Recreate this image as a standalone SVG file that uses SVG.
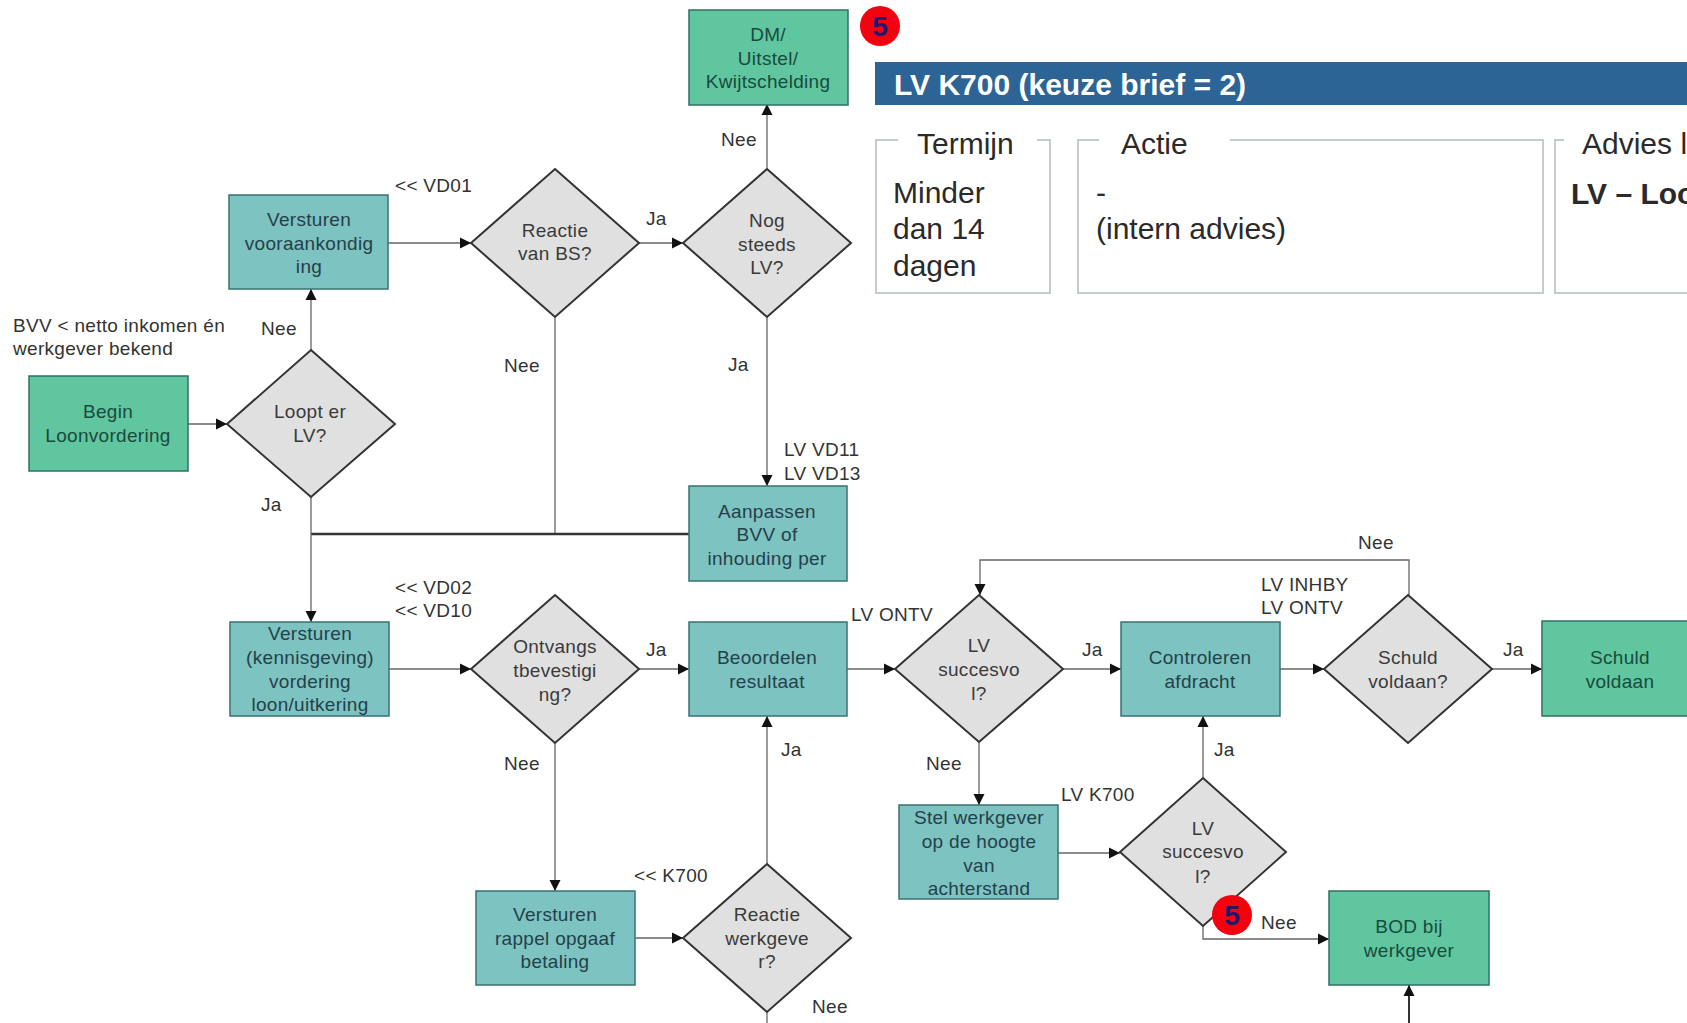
<svg xmlns="http://www.w3.org/2000/svg" width="1687" height="1023" viewBox="0 0 1687 1023">
<style>
text{font-family:"Liberation Sans",Arial,sans-serif;font-size:19px;letter-spacing:.3px;fill:#333}
.c text,.n text{text-anchor:middle}
.g rect{fill:#5fc6a0;stroke:#2f6f66;stroke-width:1.5}
.t rect{fill:#7cc3c1;stroke:#3a7272;stroke-width:1.5}
.g text{fill:#1a4a3c}
.t text{fill:#26404a}
.d polygon{fill:#e0e0e0;stroke:#333;stroke-width:2}
.d text{fill:#3a3a3a}
.cn path{fill:none;stroke:#666;stroke-width:1.3;marker-end:url(#a)}
.cn path.p{marker-end:none}
.big{font-size:30px;letter-spacing:0;fill:#2a2a2a}
.panel{fill:none;stroke:#c4cccc;stroke-width:2}
.b text{font-size:28px;letter-spacing:0;font-weight:bold;fill:#1a1a6e;text-anchor:middle}
</style>
<defs>
<marker id="a" viewBox="0 0 12 12" refX="12" refY="6" markerWidth="12" markerHeight="12" markerUnits="userSpaceOnUse" orient="auto"><path d="M1 0.5L12 6L1 11.5Z" fill="#111"/></marker>
</defs>
<rect width="1687" height="1023" fill="#fff"/>
<g id="connectors" class="cn">
<path d="M188 424H227"/>
<path d="M311 350V289"/>
<path d="M388 243H471"/>
<path d="M639 243H683"/>
<path d="M767 169V104"/>
<path d="M767 317V486"/>
<path class="p" d="M555 317V535"/>
<path class="p" d="M311 534H689" style="stroke-width:2.5;stroke:#333"/>
<path d="M311 497V622"/>
<path d="M389 669H471"/>
<path d="M639 669H689"/>
<path d="M847 669H895"/>
<path d="M1063 669H1121"/>
<path d="M1280 669H1324"/>
<path d="M1492 669H1542"/>
<path d="M1409 595V560H980V595"/>
<path d="M979 742V805"/>
<path d="M1058 853H1120"/>
<path d="M1203 778V716"/>
<path d="M555 743V891"/>
<path d="M635 938H683"/>
<path d="M767 864V716"/>
<path d="M1203 926V939H1329"/>
<path d="M1409 1023V985" style="stroke-width:2;stroke:#333"/>
<path class="p" d="M767 1012V1023"/>
</g>
<g id="dm" class="n g"><rect x="689" y="10" width="159" height="95"/><text x="768" y="41">DM/</text><text x="768" y="65">Uitstel/</text><text x="768" y="88">Kwijtschelding</text></g>
<g id="vooraankondiging" class="n t"><rect x="229" y="195" width="159" height="94"/><text x="309" y="226">Versturen</text><text x="309" y="250">vooraankondig</text><text x="309" y="273">ing</text></g>
<g id="reactie-bs" class="n d"><polygon points="555,169 639,243 555,317 471,243"/><text x="555" y="237">Reactie</text><text x="555" y="260">van BS?</text></g>
<g id="nog-steeds" class="n d"><polygon points="767,169 851,243 767,317 683,243"/><text x="767" y="227">Nog</text><text x="767" y="251">steeds</text><text x="767" y="274">LV?</text></g>
<g id="begin" class="n g"><rect x="29" y="376" width="159" height="95"/><text x="108" y="418">Begin</text><text x="108" y="442">Loonvordering</text></g>
<g id="loopt" class="n d"><polygon points="311,350 395,424 311,497 227,424"/><text x="310" y="418">Loopt er</text><text x="310" y="442">LV?</text></g>
<g id="aanpassen" class="n t"><rect x="689" y="486" width="158" height="95"/><text x="767" y="518">Aanpassen</text><text x="767" y="541">BVV of</text><text x="767" y="565">inhouding per</text></g>
<g id="kennisgeving" class="n t"><rect x="230" y="622" width="159" height="94"/><text x="310" y="640">Versturen</text><text x="310" y="664">(kennisgeving)</text><text x="310" y="688">vordering</text><text x="310" y="711">loon/uitkering</text></g>
<g id="ontvangst" class="n d"><polygon points="555,595 639,669 555,743 471,669"/><text x="555" y="653">Ontvangs</text><text x="555" y="677">tbevestigi</text><text x="555" y="701">ng?</text></g>
<g id="beoordelen" class="n t"><rect x="689" y="622" width="158" height="94"/><text x="767" y="664">Beoordelen</text><text x="767" y="688">resultaat</text></g>
<g id="succesvol1" class="n d"><polygon points="979,595 1063,669 979,742 895,669"/><text x="979" y="652">LV</text><text x="979" y="676">succesvo</text><text x="979" y="700">l?</text></g>
<g id="controleren" class="n t"><rect x="1121" y="622" width="159" height="94"/><text x="1200" y="664">Controleren</text><text x="1200" y="688">afdracht</text></g>
<g id="schuld-vraag" class="n d"><polygon points="1408,595 1492,669 1408,743 1324,669"/><text x="1408" y="664">Schuld</text><text x="1408" y="688">voldaan?</text></g>
<g id="schuld" class="n g"><rect x="1542" y="621" width="160" height="95"/><text x="1620" y="664">Schuld</text><text x="1620" y="688">voldaan</text></g>
<g id="stel" class="n t"><rect x="899" y="805" width="159" height="94"/><text x="979" y="824">Stel werkgever</text><text x="979" y="848">op de hoogte</text><text x="979" y="872">van</text><text x="979" y="895">achterstand</text></g>
<g id="succesvol2" class="n d"><polygon points="1203,778 1286,852 1203,926 1120,852"/><text x="1203" y="835">LV</text><text x="1203" y="858">succesvo</text><text x="1203" y="883">l?</text></g>
<g id="bod" class="n g"><rect x="1329" y="891" width="160" height="94"/><text x="1409" y="933">BOD bij</text><text x="1409" y="957">werkgever</text></g>
<g id="rappel" class="n t"><rect x="476" y="891" width="159" height="94"/><text x="555" y="921">Versturen</text><text x="555" y="945">rappel opgaaf</text><text x="555" y="968">betaling</text></g>
<g id="reactie-wg" class="n d"><polygon points="767,864 851,938 767,1012 683,938"/><text x="767" y="921">Reactie</text><text x="767" y="945">werkgeve</text><text x="767" y="968">r?</text></g>
<g id="labels">
<text x="395" y="192">&lt;&lt; VD01</text>
<text x="13" y="332">BVV &lt; netto inkomen én</text>
<text x="13" y="355">werkgever bekend</text>
<text x="261" y="335">Nee</text>
<text x="261" y="511">Ja</text>
<text x="646" y="225">Ja</text>
<text x="721" y="146">Nee</text>
<text x="504" y="372">Nee</text>
<text x="728" y="371">Ja</text>
<text x="784" y="456">LV VD11</text>
<text x="784" y="480">LV VD13</text>
<text x="395" y="594">&lt;&lt; VD02</text>
<text x="395" y="617">&lt;&lt; VD10</text>
<text x="646" y="656">Ja</text>
<text x="851" y="621">LV ONTV</text>
<text x="1082" y="656">Ja</text>
<text x="926" y="770">Nee</text>
<text x="504" y="770">Nee</text>
<text x="781" y="756">Ja</text>
<text x="1214" y="756">Ja</text>
<text x="1061" y="801">LV K700</text>
<text x="634" y="882">&lt;&lt; K700</text>
<text x="812" y="1013">Nee</text>
<text x="1261" y="929">Nee</text>
<text x="1261" y="591">LV INHBY</text>
<text x="1261" y="614">LV ONTV</text>
<text x="1358" y="549">Nee</text>
<text x="1503" y="656">Ja</text>
</g>
<g id="header"><rect x="875" y="62" width="812" height="43" fill="#2d6496"/><text x="894" y="95" style="font-size:30px;letter-spacing:0;font-weight:bold;fill:#fff">LV K700 (keuze brief = 2)</text></g>
<g id="termijn"><path class="panel" d="M898 140H876V293H1050V140H1037"/><text class="big" x="917" y="154">Termijn</text><text class="big" x="893" y="203">Minder</text><text class="big" x="893" y="239">dan 14</text><text class="big" x="893" y="276">dagen</text></g>
<g id="actie"><path class="panel" d="M1099 140H1078V293H1543V140H1230"/><text class="big" x="1121" y="154">Actie</text><text class="big" x="1096" y="203">-</text><text class="big" x="1096" y="239">(intern advies)</text></g>
<g id="advies"><path class="panel" d="M1564 140H1555V293H1687"/><text class="big" x="1582" y="154">Advies l</text><text class="big" x="1571" y="204" style="font-weight:bold">LV – Loo</text></g>
<g id="badge1" class="b"><circle cx="880" cy="26" r="20" fill="#f4000f"/><text x="880" y="36">5</text></g>
<g id="badge2" class="b"><circle cx="1232" cy="915" r="20" fill="#f4000f"/><text x="1232" y="925">5</text></g>
</svg>
